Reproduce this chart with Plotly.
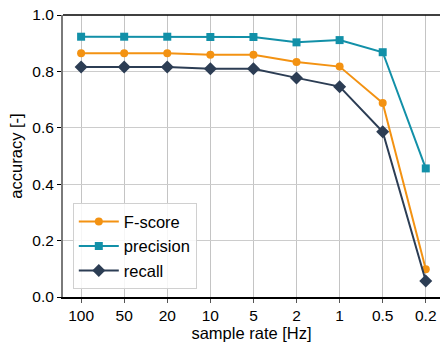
import plotly.graph_objects as go

rates = ["100", "50", "20", "10", "5", "2", "1", "0.5", "0.2"]
fscore = [0.864, 0.864, 0.864, 0.859, 0.859, 0.833, 0.817, 0.688, 0.098]
precision = [0.923, 0.923, 0.923, 0.922, 0.922, 0.903, 0.911, 0.868, 0.456]
recall = [0.816, 0.816, 0.816, 0.809, 0.809, 0.777, 0.746, 0.586, 0.057]

FONT = "Liberation Sans, Arial, sans-serif"

fig = go.Figure()
series = [
    ("F-score", fscore, "#F39212", "circle", 8),
    ("precision", precision, "#1290A8", "square", 8),
    ("recall", recall, "#2C3D54", "diamond", 10),
]
for name, vals, col, sym, sz in series:
    fig.add_trace(go.Scatter(
        x=rates, y=vals, name=name, mode="lines+markers",
        line=dict(color=col, width=2),
        marker=dict(color=col, symbol=sym, size=sz),
    ))

fig.update_layout(
    width=440, height=342,
    margin=dict(l=63, r=0, t=15, b=45),
    plot_bgcolor="white", paper_bgcolor="white",
    font=dict(family=FONT, size=16.5, color="black"),
    showlegend=True,
    legend=dict(
        x=0.026, y=0.027, xanchor="left", yanchor="bottom",
        bgcolor="rgba(255,255,255,0.85)", bordercolor="#d0d0d0", borderwidth=1,
        font=dict(size=16.5, family=FONT), itemwidth=40, tracegroupgap=2,
    ),
)
fig.update_xaxes(
    type="category", range=[-0.42, 8.33],
    showgrid=True, gridcolor="#c4c4c4", gridwidth=1,
    showline=True, linecolor="black", linewidth=1.5,
    ticks="outside", ticklen=4, tickcolor="#555555",
    tickfont=dict(size=15.5),
    title=dict(text="sample rate [Hz]", font=dict(size=16.5), standoff=2),
    zeroline=False,
)
fig.update_yaxes(
    range=[0, 1.0], tickvals=[0, 0.2, 0.4, 0.6, 0.8, 1.0],
    ticktext=["0.0", "0.2", "0.4", "0.6", "0.8", "1.0"],
    showgrid=True, gridcolor="#cccccc", gridwidth=1,
    showline=True, linecolor="#7a7a7a", linewidth=2,
    ticks="outside", ticklen=4, tickcolor="black",
    tickfont=dict(size=15.5),
    title=dict(text="accuracy [-]", font=dict(size=16.5), standoff=6),
    zeroline=False,
)
fig.add_shape(type="line", xref="paper", yref="paper", x0=0, x1=1, y0=1, y1=1,
              line=dict(color="black", width=1.5))

fig.write_html("out.html")
